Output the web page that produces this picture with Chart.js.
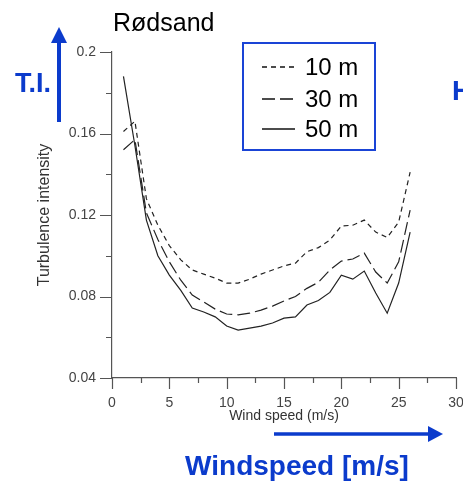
<!DOCTYPE html>
<html>
<head>
<meta charset="utf-8">
<script src="https://cdn.jsdelivr.net/npm/chart.js@4/dist/chart.umd.min.js"></script>
<style>
  html, body { margin: 0; padding: 0; background: #fff; }
  #wrap { width: 463px; height: 483px; }
</style>
</head>
<body>
<div id="wrap"><canvas id="tiChart" width="463" height="483"></canvas></div>
<script>
/* data */
const windSpeed = [1,2,3,4,5,6,7,8,9,10,11,12,13,14,15,16,17,18,19,20,21,22,23,24,25,26];
const ti10m = [0.161,0.166,0.128,0.115,0.105,0.098,0.093,0.091,0.089,0.0866,0.0866,0.0885,0.091,0.093,0.095,0.0964,0.102,0.104,0.1077,0.1146,0.115,0.1175,0.1116,0.109,0.1165,0.141];
const ti30m = [0.152,0.157,0.121,0.108,0.097,0.088,0.0807,0.0773,0.0738,0.0714,0.071,0.0718,0.0733,0.0753,0.0778,0.080,0.084,0.087,0.093,0.0974,0.0984,0.1013,0.092,0.0866,0.097,0.1224];
const ti50m = [0.188,0.154,0.1175,0.100,0.0905,0.083,0.0743,0.0724,0.070,0.0655,0.0635,0.0645,0.0655,0.067,0.0694,0.070,0.0758,0.078,0.082,0.0905,0.0885,0.0925,0.0817,0.0718,0.0866,0.1116];
const seriesNames = ['10 m','30 m','50 m'];
const xTickLabels = ['0','5','10','15','20','25','30'];
const yTickLabels = ['0.04','0.08','0.12','0.16','0.2'];

const BLUE = '#0b3bcc';
const FONT = '"Liberation Sans", Arial, sans-serif';

function toPoints(vals) {
    return windSpeed.map((v, i) => ({x: v, y: vals[i]}));
}

//ticks (major + minor), legend, title and the blue notes
const extras = {
    id: 'extras',
    afterDraw(chart) {
        const ctx = chart.ctx;
        const xs = chart.scales.x;
        const ys = chart.scales.y;
        const area = chart.chartArea;
        ctx.save();

        //tick marks
        ctx.strokeStyle = '#555';
        ctx.lineWidth = 1.2;
        ctx.beginPath();
        for (let i = 0; i <= 8; i++) {
            const py = Math.round(ys.getPixelForValue(0.04 + i * 0.02)) + 0.5;
            const len = i % 2 === 0 ? 12 : 6;
            ctx.moveTo(area.left - len, py);
            ctx.lineTo(area.left, py);
        }
        for (let i = 0; i <= 12; i++) {
            const px = Math.round(xs.getPixelForValue(i * 2.5)) + 0.5;
            const len = i % 2 === 0 ? 11 : 5;
            ctx.moveTo(px, area.bottom);
            ctx.lineTo(px, area.bottom + len);
        }
        ctx.stroke();

        //title
        ctx.fillStyle = '#000';
        ctx.font = '25px ' + FONT;
        ctx.textAlign = 'left';
        ctx.textBaseline = 'alphabetic';
        ctx.fillText('Rødsand', 113, 31);

        //legend box
        ctx.strokeStyle = '#1a44d6';
        ctx.lineWidth = 2;
        ctx.strokeRect(243, 43, 132, 107);
        const rows = [67, 99, 129];
        chart.data.datasets.forEach((ds, i) => {
            ctx.strokeStyle = '#111';
            ctx.lineWidth = 1.5;
            ctx.setLineDash(ds.borderDash || []);
            ctx.beginPath();
            ctx.moveTo(262, rows[i]);
            ctx.lineTo(295, rows[i]);
            ctx.stroke();
            ctx.setLineDash([]);
            ctx.fillStyle = '#000';
            ctx.font = '24px ' + FONT;
            ctx.textBaseline = 'middle';
            ctx.fillText(ds.label, 305, rows[i] + 1);
        });

        //blue notes
        ctx.fillStyle = BLUE;
        ctx.strokeStyle = BLUE;
        ctx.font = 'bold 27px ' + FONT;
        ctx.textBaseline = 'alphabetic';
        ctx.fillText('T.I.', 15, 92);
        ctx.font = 'bold 28px ' + FONT;
        ctx.fillText('H', 452, 100);
        ctx.textAlign = 'center';
        ctx.fillText('Windspeed [m/s]', 297, 475);

        //vertical arrow
        ctx.lineWidth = 4;
        ctx.beginPath();
        ctx.moveTo(59, 122);
        ctx.lineTo(59, 38);
        ctx.stroke();
        ctx.beginPath();
        ctx.moveTo(59, 27);
        ctx.lineTo(51, 43);
        ctx.lineTo(67, 43);
        ctx.closePath();
        ctx.fill();

        //horizontal arrow
        ctx.lineWidth = 3.5;
        ctx.beginPath();
        ctx.moveTo(274, 434);
        ctx.lineTo(436, 434);
        ctx.stroke();
        ctx.beginPath();
        ctx.moveTo(443, 434);
        ctx.lineTo(428, 426);
        ctx.lineTo(428, 442);
        ctx.closePath();
        ctx.fill();

        ctx.restore();
    }
};

const tiCanvas = document.getElementById('tiChart');

let tiChart = new Chart(tiCanvas, {
    type: 'line',
    data: {
        datasets: [
            {label: seriesNames[0], data: toPoints(ti10m), borderDash: [5, 4]},
            {label: seriesNames[1], data: toPoints(ti30m), borderDash: [13, 5]},
            {label: seriesNames[2], data: toPoints(ti50m), borderDash: []}
        ]
    },
    options: {
        responsive: false,
        animation: false,
        layout: {padding: {top: 52, right: 7, left: 0, bottom: 0}},
        elements: {
            line: {borderColor: '#222', borderWidth: 1.2, tension: 0, fill: false},
            point: {radius: 0}
        },
        scales: {
            x: {
                type: 'linear',
                min: 0,
                max: 30,
                grid: {display: false, drawTicks: false},
                border: {display: true, color: '#555', width: 1.2},
                ticks: {
                    stepSize: 5,
                    padding: 17,
                    color: '#444',
                    font: {size: 14, family: FONT},
                    maxRotation: 0,
                    callback: (v, i) => xTickLabels[i]
                },
                title: {
                    display: true,
                    text: 'Wind speed (m/s)',
                    color: '#333',
                    font: {size: 14, family: FONT},
                    padding: {top: 0, bottom: 58}
                },
                afterFit: (s) => { s.height = 105; s.paddingLeft = 0; s.paddingRight = 0; }
            },
            y: {
                min: 0.04,
                max: 0.2,
                grid: {display: false, drawTicks: false},
                border: {display: true, color: '#555', width: 1.2},
                ticks: {
                    stepSize: 0.04,
                    padding: 16,
                    color: '#444',
                    font: {size: 14, family: FONT},
                    callback: (v, i) => yTickLabels[i]
                },
                title: {
                    display: true,
                    text: 'Turbulence intensity',
                    color: '#333',
                    font: {size: 16, family: FONT},
                    padding: {top: 35, bottom: 0}
                },
                afterFit: (s) => { s.width = 112; s.paddingTop = 0; s.paddingBottom = 0; }
            }
        },
        plugins: {
            legend: {display: false},
            tooltip: {enabled: false}
        }
    },
    plugins: [extras]
});
</script>
</body>
</html>
